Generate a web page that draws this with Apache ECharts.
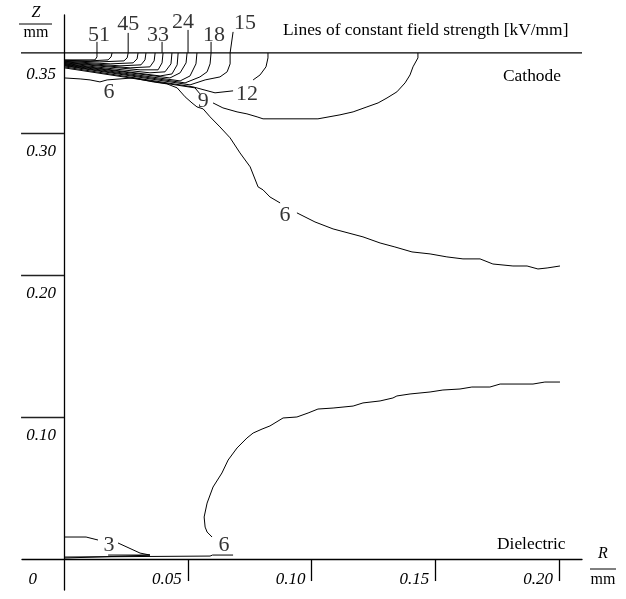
<!DOCTYPE html>
<html>
<head>
<meta charset="utf-8">
<title>Lines of constant field strength</title>
<script src="https://cdn.jsdelivr.net/npm/echarts@6/dist/echarts.min.js"></script>
<style>
    html, body { margin: 0; padding: 0; background: #fff; }
    #chart { width: 626px; height: 599px; }
</style>
</head>
<body>
<div id="chart"></div>
<script>
// R [mm], Z [mm]
var cathodeZ = 0.3563;
var cathodeR = [-0.0198, 0.2093];

// contour lines near the cathode edge (level in kV/mm)
var c51 = [[0, 0.3514], [0.0125, 0.3514], [0.0133, 0.3535], [0.0133, 0.3563]];
var c48 = [[0, 0.3511], [0.0105, 0.3507], [0.0178, 0.3514], [0.0190, 0.3535], [0.0194, 0.3563]];
var c45 = [[0, 0.3507], [0.0145, 0.3500], [0.0242, 0.3507], [0.0255, 0.3528], [0.0259, 0.3563]];
var c42 = [[0, 0.3504], [0.0186, 0.3486], [0.0279, 0.3493], [0.0295, 0.3521], [0.0299, 0.3563]];
var c39 = [[0, 0.3500], [0.0226, 0.3472], [0.0311, 0.3479], [0.0327, 0.3514], [0.0331, 0.3563]];
var c36 = [[0, 0.3496], [0.0267, 0.3458], [0.0347, 0.3465], [0.0364, 0.3507], [0.0368, 0.3563]];
var c33 = [[0, 0.3493], [0.0307, 0.3444], [0.0380, 0.3444], [0.0396, 0.3493], [0.0400, 0.3563]];
var c30 = [[0, 0.3489], [0.0347, 0.3423], [0.0408, 0.3430], [0.0432, 0.3486], [0.0436, 0.3563]];
var c27 = [[0, 0.3486], [0.0388, 0.3401], [0.0436, 0.3415], [0.0457, 0.3479], [0.0461, 0.3563]];
var c24 = [[0, 0.3482], [0.0428, 0.3387], [0.0469, 0.3423], [0.0493, 0.3493], [0.0497, 0.3563]];
var c21 = [[0, 0.3479], [0.0469, 0.3366], [0.0509, 0.3401], [0.0533, 0.3486], [0.0537, 0.3563]];
var c18 = [[0, 0.3475], [0.0489, 0.3352], [0.0549, 0.3394], [0.0578, 0.3430], [0.0590, 0.3486], [0.0594, 0.3563]];
var c15 = [[0, 0.3472], [0.0509, 0.3338], [0.0570, 0.3373], [0.0630, 0.3394], [0.0659, 0.3430], [0.0671, 0.3486], [0.0671, 0.3563]];
var c12a = [[0, 0.3465], [0.0521, 0.3324], [0.0610, 0.3282], [0.0683, 0.3296]];
var c12b = [[0.0764, 0.3373], [0.0792, 0.3408], [0.0816, 0.3465], [0.0824, 0.3528], [0.0824, 0.3563]];
var c9a = [[0, 0.3458], [0.0529, 0.3317], [0.0549, 0.3275]];
var c9b = [[0.0602, 0.3211], [0.0642, 0.3176], [0.0699, 0.3148], [0.0739, 0.3134], [0.0780, 0.3113],
    [0.0804, 0.3099], [0.1026, 0.3099], [0.1026, 0.3106], [0.1115, 0.3127], [0.1168, 0.3148],
    [0.1224, 0.3183], [0.1269, 0.3211], [0.1305, 0.3246], [0.1345, 0.3289], [0.1378, 0.3352],
    [0.1398, 0.3408], [0.1410, 0.3465], [0.1430, 0.3528], [0.1430, 0.3563]];
var c6a = [[0, 0.3387], [0.0065, 0.3380], [0.0105, 0.3373], [0.0145, 0.3359], [0.0174, 0.3373],
    [0.0226, 0.3380], [0.0279, 0.3387], [0.0319, 0.3373], [0.0360, 0.3359], [0.0416, 0.3345],
    [0.0457, 0.3317], [0.0489, 0.3254], [0.0517, 0.3211], [0.0537, 0.3183], [0.0562, 0.3169],
    [0.0590, 0.3113], [0.0630, 0.3042], [0.0671, 0.2965], [0.0711, 0.2859], [0.0752, 0.2761],
    [0.0784, 0.2620], [0.0804, 0.2599], [0.0832, 0.2549], [0.0873, 0.2507]];
var c6b = [[0.0941, 0.2437], [0.1014, 0.2373], [0.1087, 0.2324], [0.1208, 0.2268], [0.1277, 0.2225],
    [0.1337, 0.2197], [0.1406, 0.2162], [0.1479, 0.2148], [0.1547, 0.2127], [0.1612, 0.2113],
    [0.1681, 0.2113], [0.1733, 0.2077], [0.1814, 0.2063], [0.1871, 0.2063], [0.1915, 0.2042],
    [0.1952, 0.2049], [0.2004, 0.2063]];
// contour 6 near the dielectric
var c6c = [[0.0598, 0.0155], [0.0578, 0.0190], [0.0570, 0.0225], [0.0566, 0.0296], [0.0578, 0.0394],
    [0.0602, 0.0507], [0.0638, 0.0606], [0.0663, 0.0697], [0.0699, 0.0782], [0.0739, 0.0852],
    [0.0764, 0.0887], [0.0800, 0.0915], [0.0832, 0.0937], [0.0885, 0.0993], [0.0941, 0.1000],
    [0.0986, 0.1028], [0.1026, 0.1056], [0.1087, 0.1063], [0.1168, 0.1077], [0.1208, 0.1099],
    [0.1277, 0.1113], [0.1329, 0.1134], [0.1345, 0.1148], [0.1398, 0.1162], [0.1479, 0.1176],
    [0.1531, 0.1190], [0.1600, 0.1197], [0.1648, 0.1211], [0.1721, 0.1211], [0.1762, 0.1232],
    [0.1895, 0.1232], [0.1943, 0.1246], [0.2004, 0.1246]];
var c6d = [[0, 0.0014], [0.0590, 0.0021], [0.0600, 0.0028], [0.0683, 0.0028]];
var c3a = [[0, 0.0155], [0.0089, 0.0155], [0.0137, 0.0134]];
var c3b = [[0.0218, 0.0113], [0.0307, 0.0042], [0.0347, 0.0028], [0.0250, 0.0021], [0, 0.0007]];
var c3c = [[0.0178, 0.0028], [0.0347, 0.0028]];

var contourLines = [c51, c48, c45, c42, c39, c36, c33, c30, c27, c24, c21, c18, c15,
    c12a, c12b, c9a, c9b, c6a, c6b, c6c, c6d, c3a, c3b, c3c];

// contour labels: text and position [R, Z]
var labelTexts = ['51', '45', '33', '24', '18', '15', '12', '9', '6', '6', '6', '3'];
var labelPos = [[0.0141, 0.3690], [0.0259, 0.3768], [0.0380, 0.3690], [0.0481, 0.3782],
    [0.0606, 0.3690], [0.0731, 0.3775], [0.0739, 0.3275], [0.0562, 0.3225],
    [0.0182, 0.3289], [0.0893, 0.2418], [0.0646, 0.0099], [0.0182, 0.0099]];

// leader lines from labels to the cathode
var leaders = [
    [[0.0133, 0.3641], [0.0133, 0.3563]],
    [[0.0259, 0.3704], [0.0259, 0.3563]],
    [[0.0396, 0.3641], [0.0396, 0.3563]],
    [[0.0501, 0.3725], [0.0501, 0.3563]],
    [[0.0594, 0.3641], [0.0594, 0.3563]],
    [[0.0683, 0.3711], [0.0671, 0.3563]]
];

var xTicks = [0.05, 0.10, 0.15, 0.20];
var xTickLabels = [0, 0.05, 0.10, 0.15, 0.20];
var yTicks = [0.10, 0.20, 0.30];
var yTickLabels = [0.10, 0.20, 0.30, 0.35];

var serif = '"Liberation Serif", "DejaVu Serif", serif';

var chart = echarts.init(document.getElementById('chart'));

var series = [];
series.push({
    type: 'line',
    data: [[cathodeR[0], cathodeZ], [cathodeR[1], cathodeZ]],
    symbol: 'none',
    clip: false,
    lineStyle: {color: '#000', width: 1.3},
    silent: true
});
contourLines.forEach(function (pts) {
    series.push({
        type: 'line',
        data: pts,
        symbol: 'none',
        clip: false,
        lineStyle: {color: '#000', width: 1},
        silent: true
    });
});
leaders.forEach(function (pts) {
    series.push({
        type: 'line',
        data: pts,
        symbol: 'none',
        clip: false,
        lineStyle: {color: '#000', width: 1},
        silent: true
    });
});
series.push({
    type: 'scatter',
    symbolSize: 0,
    clip: false,
    silent: true,
    data: labelTexts.map(function (t, i) {
        return {name: t, value: labelPos[i]};
    }),
    label: {
        show: true,
        position: 'inside',
        formatter: '{b}',
        color: '#000',
        fontFamily: serif,
        fontSize: 22
    }
});

var tickFont = {fontFamily: serif, fontStyle: 'italic', fontSize: 17, color: '#000'};

chart.setOption({
    animation: false,
    grid: {left: 22, right: 44, top: 15, bottom: 9, containLabel: false, outerBoundsMode: 'none'},
    xAxis: {
        type: 'value',
        min: -0.017,
        max: 0.2093,
        axisLine: {onZero: true, lineStyle: {color: '#000', width: 1.3}},
        axisTick: {
            show: true,
            customValues: xTicks,
            inside: false,
            length: 22,
            lineStyle: {color: '#000', width: 1.3}
        },
        axisLabel: {
            customValues: xTickLabels,
            align: 'right',
            verticalAlign: 'middle',
            margin: -10,
            formatter: function (v) {
                return v === 0 ? '{z|0}' : '{n|' + v.toFixed(2) + '}';
            },
            rich: {
                z: Object.assign({padding: [0, 27, 0, 0]}, tickFont),
                n: Object.assign({padding: [0, 6, 0, 0]}, tickFont)
            }
        },
        splitLine: {show: false}
    },
    yAxis: {
        type: 'value',
        min: -0.0218,
        max: 0.383,
        axisLine: {onZero: true, lineStyle: {color: '#000', width: 1.3}},
        axisTick: {
            show: true,
            customValues: yTicks,
            inside: false,
            length: 43,
            lineStyle: {color: '#222', width: 1.3}
        },
        axisLabel: {
            customValues: yTickLabels,
            verticalAlign: 'top',
            margin: -34,
            formatter: function (v) {
                return (v > 0.34 ? '{t|' : '{n|') + v.toFixed(2) + '}';
            },
            rich: {
                t: Object.assign({padding: [4, 0, 0, 0]}, tickFont),
                n: Object.assign({padding: [10, 0, 0, 0]}, tickFont)
            }
        },
        splitLine: {show: false}
    },
    graphic: [
        {type: 'text', left: 283, top: 22, style: {text: 'Lines of constant field strength [kV/mm]', font: '17.4px ' + serif, fill: '#000'}},
        {type: 'text', left: 503, top: 68, style: {text: 'Cathode', font: '17.4px ' + serif, fill: '#000'}},
        {type: 'text', left: 497, top: 536, style: {text: 'Dielectric', font: '17.4px ' + serif, fill: '#000'}},
        {type: 'text', x: 36, y: 13, style: {text: 'Z', font: 'italic 16px ' + serif, fill: '#000', align: 'center', verticalAlign: 'middle'}},
        {type: 'line', shape: {x1: 19, y1: 24, x2: 52, y2: 24}, style: {stroke: '#000', lineWidth: 1}},
        {type: 'text', x: 36, y: 33, style: {text: 'mm', font: '16px ' + serif, fill: '#000', align: 'center', verticalAlign: 'middle'}},
        {type: 'text', x: 603, y: 554, style: {text: 'R', font: 'italic 16px ' + serif, fill: '#000', align: 'center', verticalAlign: 'middle'}},
        {type: 'line', shape: {x1: 590, y1: 569, x2: 616, y2: 569}, style: {stroke: '#000', lineWidth: 1}},
        {type: 'text', x: 603, y: 580, style: {text: 'mm', font: '16px ' + serif, fill: '#000', align: 'center', verticalAlign: 'middle'}}
    ],
    series: series
});
</script>
</body>
</html>
